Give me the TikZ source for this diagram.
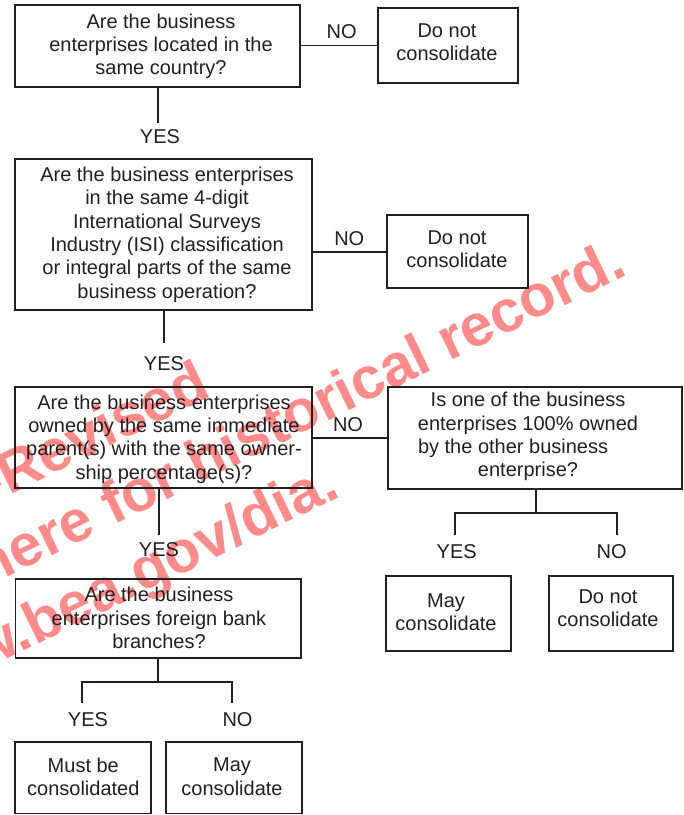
\documentclass[tikz,border=0pt]{standalone}
\usepackage{fontspec}
\setmainfont{Liberation Sans}
\definecolor{ink}{RGB}{35,31,32}
\definecolor{wmred}{RGB}{255,138,138}
\tikzset{
  box/.style={draw=ink, line width=1.9pt, inner sep=0pt},
  txt/.style={align=center, inner sep=0pt, text=ink, font=\fontsize{20}{23.3}\selectfont},
  lbl/.style={inner sep=0pt, text=ink, font=\fontsize{20}{23.3}\selectfont},
  conn/.style={draw=ink, line width=1.7pt, line join=miter},
  wm/.style={inner sep=0pt, text=wmred, font=\fontsize{59}{59}\selectfont\bfseries, rotate=26, anchor=base east}
}
\begin{document}
\begin{tikzpicture}[x=1pt, y=-1pt]
\useasboundingbox (0,0) rectangle (684,815);
% watermark (behind)
\begin{scope}
\clip (0,0) rectangle (684,815);
\node[wm] (wmA) at (213,396) {-Revised};
\node[wm] (wmB) at (629,274) {here for historical record.};
\node[wm] (wmC) at (342,496) {w.bea.gov/dia.};
\end{scope}
% boxes
\node[box, minimum width=285.5pt, minimum height=82pt] (b1) at (157.3,46) {};
\node[box, minimum width=140.5pt, minimum height=74.4pt] (d1) at (448,45.5) {};
\node[box, minimum width=296.7pt, minimum height=151pt] (b2) at (163.3,234.8) {};
\node[box, minimum width=141pt, minimum height=73.3pt] (d2) at (457.2,251.7) {};
\node[box, minimum width=296.7pt, minimum height=101.6pt] (b3) at (163.3,437.5) {};
\node[box, minimum width=294pt, minimum height=102.3pt] (r3) at (534.7,437.8) {};
\node[box, minimum width=285.5pt, minimum height=78.7pt] (b4) at (158.2,618.3) {};
\node[box, minimum width=124.7pt, minimum height=75pt] (r4) at (448.3,613.5) {};
\node[box, minimum width=123.7pt, minimum height=75pt] (r5) at (610.8,613.5) {};
\node[box, minimum width=135.7pt, minimum height=71.8pt] (m1) at (82.8,777.6) {};
\node[box, minimum width=136pt, minimum height=71.8pt] (m2) at (233.7,777.6) {};
% texts
\node[txt] (b1t) at (161,46.5) {Are the business\\enterprises located in the\\same country?};
\node[txt] (d1t) at (447,42.5) {Do not\\consolidate};
\node[txt] (b2t) at (167,234.7) {Are the business enterprises\\in the same 4-digit\\International Surveys\\Industry (ISI) classification\\or integral parts of the same\\business operation?};
\node[txt] (d2t) at (457,249) {Do not\\consolidate};
\node[txt] (b3t) at (164,439) {Are the business enterprises\\owned by the same immediate\\parent(s) with the same owner-\\ship percentage(s)?};
\node[txt] (r3t) at (528,436.7) {Is one of the business\\enterprises 100\% owned\\\makebox[220pt][l]{by the other business}\\enterprise?};
\node[txt] (b4t) at (159,618) {Are the business\\enterprises foreign bank\\branches?};
\node[txt] (r4t) at (446,612.5) {May\\consolidate};
\node[txt] (r5t) at (608,608.5) {Do not\\consolidate};
\node[txt] (m1t) at (83.3,776.6) {Must be\\consolidated};
\node[txt] (m2t) at (232,776.6) {May\\consolidate};
% labels
\node[lbl] (no1) at (341.7,31.7) {NO};
\node[lbl] (yes1) at (160,137) {YES};
\node[lbl] (no2) at (349.3,238.3) {NO};
\node[lbl] (yes2) at (164,363.3) {YES};
\node[lbl] (no3) at (348,425) {NO};
\node[lbl] (yes3) at (159,550) {YES};
\node[lbl] (yes4) at (456.7,551.7) {YES};
\node[lbl] (no4) at (611.7,551.7) {NO};
\node[lbl] (yes5) at (88,719.3) {YES};
\node[lbl] (no5) at (237.5,719.3) {NO};
% coordinates
\coordinate (c1) at (158,123);
\coordinate (c2) at (164.2,342.7);
\coordinate (c3) at (159,535);
\coordinate (r3j) at (536,512.7);
\coordinate (r3L) at (455,535);
\coordinate (r3R) at (617.3,535);
\coordinate (b4j) at (158.3,682.3);
\coordinate (b4L) at (82.3,703.3);
\coordinate (b4R) at (232.3,703.3);
% connectors
\draw[conn] (b1.east |- d1.west) -- (d1.west);
\draw[conn] (b1.south -| c1) -- (c1);
\draw[conn] (b2.east |- d2.west) -- (d2.west);
\draw[conn] (b2.south -| c2) -- (c2);
\draw[conn] (b3.east |- r3.west) -- (r3.west);
\draw[conn] (b3.south -| c3) -- (c3);
\draw[conn] (r3.south -| r3j) -- (r3j);
\draw[conn] (r3L) |- (r3j) -| (r3R);
\draw[conn] (b4.south -| b4j) -- (b4j);
\draw[conn] (b4L) |- (b4j) -| (b4R);
\end{tikzpicture}
\end{document}
